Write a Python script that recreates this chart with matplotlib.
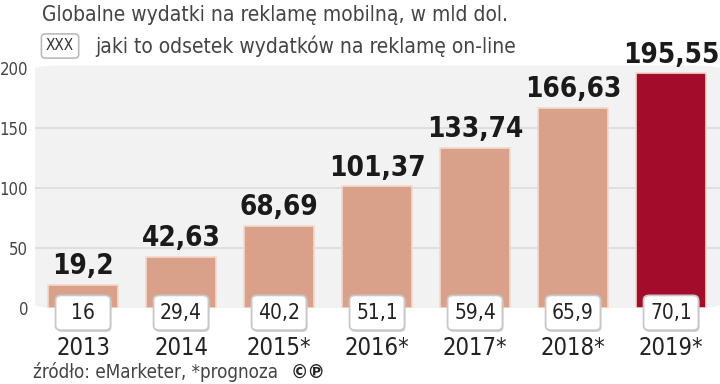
import matplotlib.pyplot as plt
from matplotlib.patches import FancyBboxPatch

years = ['2013', '2014', '2015*', '2016*', '2017*', '2018*', '2019*']
spend = [19.2, 42.63, 68.69, 101.37, 133.74, 166.63, 195.55]
spend_labels = ['19,2', '42,63', '68,69', '101,37', '133,74', '166,63', '195,55']
share_labels = ['16', '29,4', '40,2', '51,1', '59,4', '65,9', '70,1']

plt.rcParams['font.family'] = ['DejaVu Sans']
plt.rcParams['font.stretch'] = 'condensed'

fig = plt.figure(figsize=(7.2, 3.84), dpi=100)
ax = fig.add_axes([35/720, (384-308)/384, 685/720, 240/384])
ax.set_xlim(-0.49, 6.5)
ax.set_ylim(0, 200)

# rounded gray background
bg = FancyBboxPatch((0, 0), 1, 1.01, boxstyle='round,pad=0,rounding_size=0.04',
                    transform=ax.transAxes, facecolor='#f2f2f2', edgecolor='none',
                    clip_on=False, zorder=0, mutation_aspect=0.35)
ax.add_patch(bg)
ax.patch.set_visible(False)
for s in ax.spines.values():
    s.set_visible(False)

for yv in [50, 100, 150]:
    ax.axhline(yv, color='#dadada', lw=1.2, zorder=1)

colors = ['#d9a08a'] * 6 + ['#a30d2b']
x = range(len(years))
ax.bar(x, spend, width=0.71, color=colors, edgecolor='#f4d9cc', linewidth=1.2, zorder=2)

bw, bh = 0.56, 29
for i, v in enumerate(spend):
    ax.text(i, v + 4, spend_labels[i], ha='center', va='bottom', fontsize=20,
            fontweight='bold', color='#1a1a1a', zorder=4)
    # shadow + box
    sh = FancyBboxPatch((i - bw/2 + 0.01, -5.5 - bh/2), bw, bh,
                        boxstyle='round,pad=0,rounding_size=0.06', mutation_aspect=60,
                        fc='#d0d0d0', ec='none', zorder=5, clip_on=False)
    ax.add_patch(sh)
    box = FancyBboxPatch((i - bw/2, -4 - bh/2), bw, bh,
                         boxstyle='round,pad=0,rounding_size=0.06', mutation_aspect=60,
                         fc='white', ec='#c8c8c8', lw=1.3, zorder=5, clip_on=False)
    ax.add_patch(box)
    ax.text(i, -4, share_labels[i], ha='center', va='center', fontsize=15, color='#222222',
            zorder=6, clip_on=False)
    ax.text(i, -33.5, years[i], ha='center', va='center', fontsize=17, color='#222222',
            clip_on=False)

ax.set_yticks([0, 50, 100, 150, 200])
ax.set_yticklabels(['0', '50', '100', '150', '200'])
ax.tick_params(axis='y', length=0, labelsize=12, labelcolor='#444444', pad=5)
ax.tick_params(axis='x', length=0)
ax.set_xticks([])

fig.text(42/720, 1 - 15/384, 'Globalne wydatki na reklamę mobilną, w mld dol.', fontsize=15,
         color='#444444', va='center', ha='left')
fig.text(46/720, 1 - 46/384, 'XXX', fontsize=11, color='#333333', va='center', ha='left',
         bbox=dict(boxstyle='round,pad=0.3,rounding_size=0.25', fc='white', ec='#bbbbbb', lw=1.2))
fig.text(95/720, 1 - 46/384, 'jaki to odsetek wydatków na reklamę on-line', fontsize=15,
         color='#444444', va='center', ha='left')
src = fig.text(33/720, 1 - 372/384, 'źródło: eMarketer, *prognoza', fontsize=13.5,
               color='#444444', va='center', ha='left')
ax.annotate('©℗', xy=(1, 0.5), xycoords=src, xytext=(9, 0), textcoords='offset points',
            fontsize=14, color='#222222', va='center', ha='left', fontweight='bold',
            annotation_clip=False)

fig.savefig('out.png', dpi=100)
